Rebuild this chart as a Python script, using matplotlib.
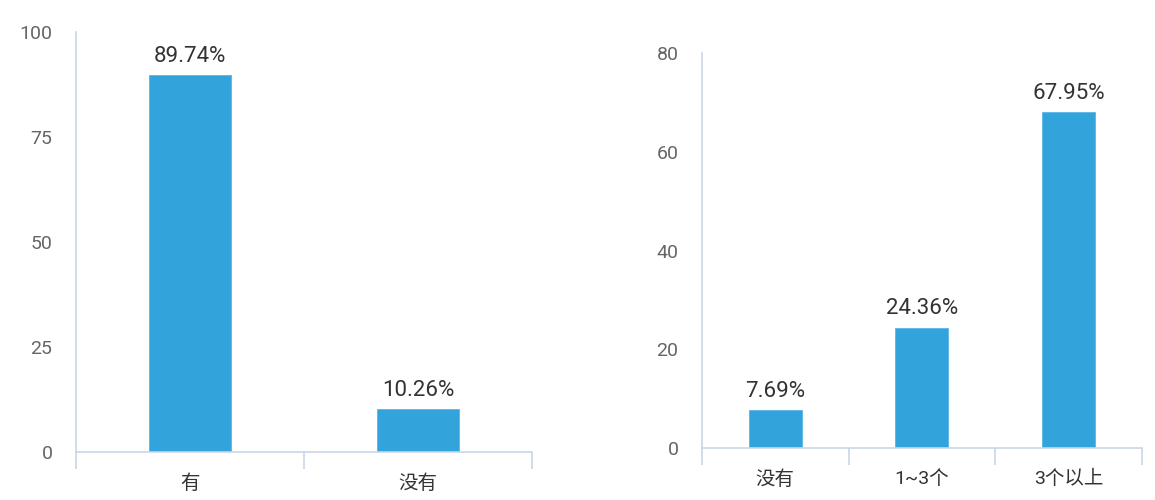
import matplotlib
matplotlib.use("Agg")
import matplotlib.pyplot as plt

plt.rcParams['font.family'] = ['Roboto', 'Noto Sans CJK SC', 'DejaVu Sans']

left_categories = ["有", "没有"]
left_values = [89.74, 10.26]
left_yticks = [0, 25, 50, 75, 100]

right_categories = ["没有", "1~3个", "3个以上"]
right_values = [7.69, 24.36, 67.95]
right_yticks = [0, 20, 40, 60, 80]

BAR = "#33a3dc"
AXIS = "#c9d6e6"
TICKTXT = "#666666"
LABTXT = "#333333"

fig = plt.figure(figsize=(11.55, 5.0), dpi=100)
ax1 = fig.add_axes([0.0658, 0.096, 0.3948, 0.840])
ax2 = fig.add_axes([0.6078, 0.104, 0.3806, 0.790])


def draw(ax, cats, vals, yticks):
    n = len(cats)
    xs = list(range(n))
    ax.bar(xs, vals, width=0.36, color=BAR, edgecolor="#5ab6e6", linewidth=0.6, zorder=2)
    ax.set_xlim(-0.5, n - 0.5)
    ax.set_ylim(yticks[0], yticks[-1])
    ax.set_yticks(yticks)
    ax.set_yticklabels([str(t) for t in yticks])
    ax.tick_params(axis='y', length=0, pad=17, labelsize=14, labelcolor=TICKTXT)
    # boundaries as major ticks, labels as minor
    ax.set_xticks([i - 0.5 for i in range(n + 1)])
    ax.set_xticklabels([])
    ax.set_xticks(xs, minor=True)
    ax.set_xticklabels(cats, minor=True)
    ax.tick_params(axis='x', which='major', length=12, width=1.2, color=AXIS)
    ax.tick_params(axis='x', which='minor', length=0, pad=16, labelsize=14, labelcolor=LABTXT)
    for s in ['top', 'right']:
        ax.spines[s].set_visible(False)
    for s in ['left', 'bottom']:
        ax.spines[s].set_color(AXIS)
        ax.spines[s].set_linewidth(1.2)
    for x, v in zip(xs, vals):
        ax.annotate(f"{v:.2f}%", (x, v), xytext=(0, 6), textcoords='offset points',
                    ha='center', va='bottom', fontsize=16, color=LABTXT)


draw(ax1, left_categories, left_values, left_yticks)
draw(ax2, right_categories, right_values, right_yticks)

fig.savefig("out.png", dpi=100)
